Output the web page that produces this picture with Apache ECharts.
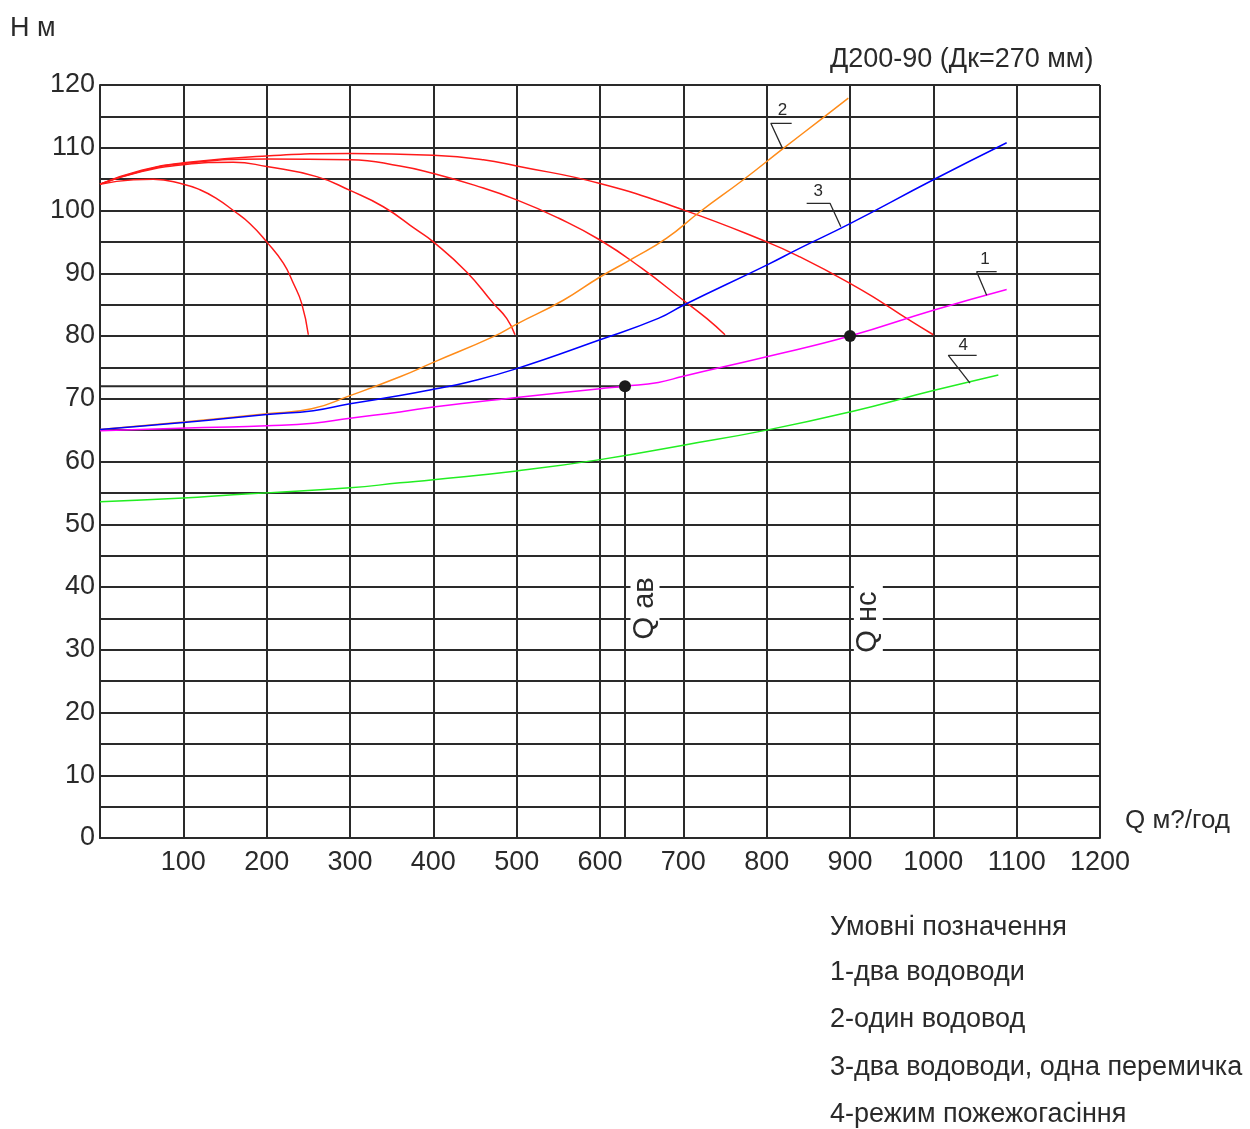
<!DOCTYPE html>
<html><head><meta charset="utf-8">
<script src="https://cdn.jsdelivr.net/npm/echarts@6/dist/echarts.min.js"></script>
<style>html,body{margin:0;padding:0;background:#fff}#c{width:1250px;height:1129px}</style>
</head><body><div id="c"></div>
<script>
// ---- tick labels ----
const xTickLabels = [100,200,300,400,500,600,700,800,900,1000,1100,1200];
const yTickLabels = [0,10,20,30,40,50,60,70,80,90,100,110,120];

// ---- pump characteristics (red), Q m3/h vs H m ----
const pumpA = [[0,104.2],[40,104.9],[64,105.0],[100,104.2],[120,103.3],[140,101.9],[160,100.0],[180,97.9],[200,95.0],[220,91.6],[232,88.4],[242,85.2],[250,80.2]];
const pumpB = [[0,104.2],[50,106.2],[100,107.3],[160,107.7],[200,107.0],[260,105.4],[300,103.2],[340,100.6],[380,96.9],[400,95.0],[440,90.2],[472,85.2],[488,82.8],[498,80.2]];
const pumpC = [[0,104.2],[50,106.3],[100,107.5],[200,108.2],[300,108.1],[360,107.1],[400,105.9],[450,104.0],[500,101.7],[550,98.8],[600,95.3],[650,90.8],[700,85.7],[728,82.8],[750,80.2]];
const pumpD = [[0,104.2],[50,106.4],[100,107.6],[200,108.7],[300,109.1],[400,108.8],[460,108.1],[500,107.1],[600,104.3],[700,100.1],[800,95.0],[840,92.6],[900,88.4],[940,85.2],[968,82.8],[1000,80.2]];

// ---- network characteristics ----
const curve1 = [[0,64.9],[124,65.4],[200,65.7],[256,66.1],[300,66.9],[360,67.9],[400,68.7],[500,70.2],[600,71.6],[630,72.0],[670,72.6],[700,73.6],[800,76.7],[900,80.0],[1000,84.1],[1088,87.4]];
const curve2 = [[0,65.1],[100,66.3],[200,67.6],[254,68.4],[300,70.5],[360,73.5],[400,75.8],[472,79.9],[500,81.9],[556,85.7],[600,89.4],[640,92.4],[680,95.6],[720,99.8],[772,104.9],[820,109.9],[864,114.4],[898,117.9]];
const curve3 = [[0,65.1],[100,66.2],[200,67.5],[256,68.1],[300,69.2],[360,70.5],[400,71.5],[440,72.6],[500,74.8],[600,79.4],[670,82.8],[700,84.9],[800,91.3],[840,94.0],[900,97.9],[1000,104.9],[1088,110.8]];
const curve4 = [[0,53.6],[100,54.2],[160,54.7],[200,55.0],[300,55.8],[360,56.6],[400,57.1],[500,58.5],[600,60.3],[700,62.6],[800,65.0],[900,67.9],[1000,71.3],[1078,73.8]];

// ---- operating points ----
const pointAv = [630,72];
const pointNs = [900,80];

// ---- curve tags (number + leader) in data coords ----
const tagTexts = ['1','2','3','4'];
const tagTextPos = [[1062,92.3],[819,115.9],[862,103.1],[1036,78.5]];
const tagLeaders = [
  [[1076,90.25],[1052,90.25],[1064,86.5]],
  [[830,113.9],[805,113.9],[819,109.9]],
  [[848,101.15],[876,101.15],[889,97.4]],
  [[1052,76.9],[1018,76.9],[1020,76.9],[1044,72.5]]
];
const qLabels = ['Q ав','Q нс'];
const qLabelPos = [[654,36.6],[922,34.4]];

const legendLines = ['Умовні позначення','1-два водоводи','2-один водовод','3-два водоводи, одна перемичка','4-режим пожежогасіння'];

const FONT = "'Liberation Sans', Arial, sans-serif";
const TXT = '#2a2a2a';

const chart = echarts.init(document.getElementById('c'), null, {renderer:'canvas'});

function curveSeries(data, color){
  return {type:'line', data, smooth:0.5, symbol:'none', silent:true,
    lineStyle:{color, width:1.5}, z:3};
}
function plainLine(data, color, width, z){
  return {type:'line', data, symbol:'none', silent:true, lineStyle:{color, width}, z:z||2};
}

const series = [
  curveSeries(pumpA,'#ff1a1a'), curveSeries(pumpB,'#ff1a1a'), curveSeries(pumpC,'#ff1a1a'), curveSeries(pumpD,'#ff1a1a'),
  curveSeries(curve1,'#ff00ff'), curveSeries(curve2,'#ff8c1a'), curveSeries(curve3,'#0000ff'), curveSeries(curve4,'#22ee22'),
  plainLine([[0,pointAv[1]],pointAv], '#2a2a2a', 2, 2),
  plainLine([pointAv,[pointAv[0],0]], '#2a2a2a', 2, 2),
  {type:'scatter', data:[pointAv, pointNs], symbol:'circle', symbolSize:12, itemStyle:{color:'#1a1a1a', opacity:1}, z:5, silent:true},
];
tagLeaders.forEach(l => series.push(plainLine(l, '#2a2a2a', 1.3, 4)));
series.push({type:'scatter', symbolSize:0, silent:true, z:6, itemStyle:{opacity:1},
  data: tagTexts.map((t,i)=>({value:tagTextPos[i], name:t})),
  label:{show:true, position:'inside', formatter:p=>p.name, fontSize:17, fontFamily:FONT, color:TXT, opacity:1}});
series.push({type:'scatter', symbolSize:0, silent:true, z:6, itemStyle:{opacity:1},
  data: qLabels.map((t,i)=>({value:qLabelPos[i], name:t})),
  label:{show:true, position:'inside', rotate:90, formatter:p=>p.name, fontSize:29, fontFamily:FONT, color:TXT, opacity:1,
    backgroundColor:'#fff', padding:[0,6,0,6]}});

const option = {
  animation:false,
  backgroundColor:'#fff',
  grid:{left:100, right:150, top:85, bottom:291, containLabel:false},
  xAxis:{type:'value', min:0, max:1200, interval:100,
    axisLine:{show:true, onZero:false, lineStyle:{color:'#2a2a2a', width:2}},
    axisTick:{show:false},
    splitLine:{show:true, lineStyle:{color:'#2a2a2a', width:2}},
    axisLabel:{show:true, margin:11, fontSize:27, fontFamily:FONT, color:TXT, showMaxLabel:true,
      formatter:v=> xTickLabels.includes(v) ? String(v) : ''}},
  yAxis:{type:'value', min:0, max:120, interval:5,
    axisLine:{show:true, onZero:false, lineStyle:{color:'#2a2a2a', width:2}},
    axisTick:{show:false},
    splitLine:{show:true, lineStyle:{color:'#2a2a2a', width:2}},
    axisLabel:{show:true, margin:5, fontSize:27, fontFamily:FONT, color:TXT, showMaxLabel:true, showMinLabel:true,
      formatter:v=> yTickLabels.includes(v) ? String(v) : ''}},
  series,
  graphic:[
    {type:'text', left:10, top:15, style:{text:'H м', fontSize:27, fontFamily:FONT, fill:TXT}},
    {type:'text', left:830, top:46, style:{text:'Д200-90 (Дк=270 мм)', fontSize:27, fontFamily:FONT, fill:TXT}},
    {type:'text', left:1125, top:808, style:{text:'Q м?/год', fontSize:26, fontFamily:FONT, fill:TXT}},
    ...legendLines.map((t,i)=>({type:'text', left:830, top:[914,959,1006,1054,1101][i],
      style:{text:t, fontSize:27, fontFamily:FONT, fill:TXT}}))
  ]
};
chart.setOption(option);
</script>
</body></html>
